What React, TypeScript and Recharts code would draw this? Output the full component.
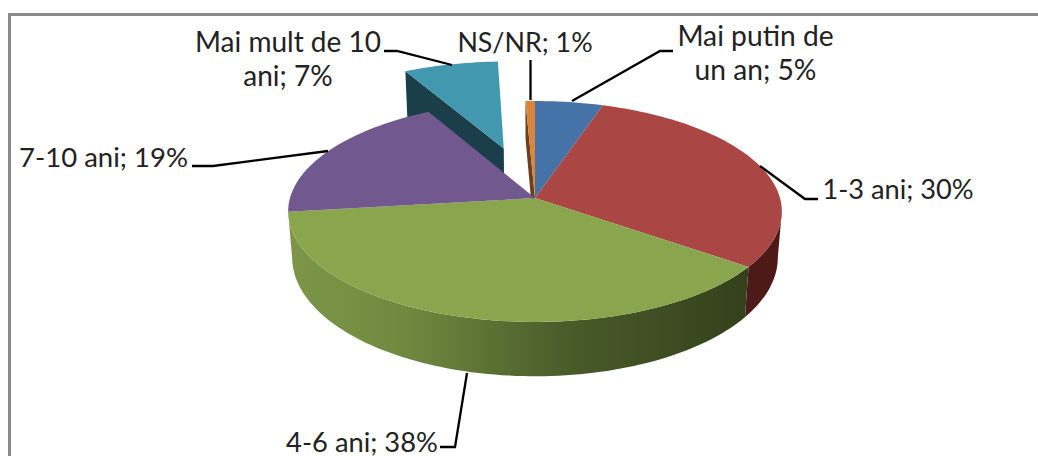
import React from 'react';
import { PieChart, Pie } from 'recharts';

const categories = ['Mai putin de un an', '1-3 ani', '4-6 ani', '7-10 ani', 'Mai mult de 10 ani', 'NS/NR'];
const values = [5, 30, 38, 19, 7.3, 0.7];
const topColors = ['#4572A7', '#AA4643', '#89A54E', '#71588F', '#4198AF', '#DB843D'];
const wallColors = ['#22394f', '#4d1a18', 'url(#greenRim)', '#38294a', '#1b3f4a', '#6b3f1a'];
const explode = [0, 0, 0, 0, 0.5, 0];

const labelLines = [
  ['Mai putin de', 'un an; 5%'],
  ['1-3 ani; 30%'],
  ['4-6 ani; 38%'],
  ['7-10 ani; 19%'],
  ['Mai mult de 10', 'ani; 7%'],
  ['NS/NR; 1%'],
];
const labelPlace = [
  { x: 755.5, y: 46, size: 28.2 },
  { x: 898, y: 199, size: 27.2 },
  { x: 362, y: 452, size: 27.3 },
  { x: 103.5, y: 167, size: 27.5 },
  { x: 288, y: 52, size: 28 },
  { x: 525, y: 52, size: 26.8 },
];
const leaderPaths = [
  '572,101 660,51 673,51',
  '760,166 805,199 818,199',
  '467,373 455,447 440,447',
  '328,151 213,166 192,166',
  '452,65 397,51 384,51',
  '530.5,100 530.5,60',
];

const K = 0.122;
const TOP = { ry: 108.8, dy: 0, scale: 1 };
const BOTTOM = { ry: 117, dy: 45, scale: 241 / 245 };
const WALL_BOTTOM = { ry: 117, dy: 60, scale: 241 / 245 };
// the rim is visible between the two silhouette tangents of the perspective ellipse
const RIM_RIGHT = -7;
const RIM_LEFT = -173;

type Layer = { ry: number; dy: number; scale: number };

function project(cx: number, cy: number, r: number, layer: Layer, u: number, v: number) {
  const d = 1 + K * v;
  return [cx + (r * layer.scale * u) / d, cy + layer.dy - (layer.ry * v) / d];
}

function arcPoints(p: any, layer: Layer, from: number, to: number) {
  const ex = explode[p.index] || 0;
  const mid = (((p.startAngle + p.endAngle) / 2) * Math.PI) / 180;
  const ox = ex * Math.cos(mid);
  const oy = ex * Math.sin(mid);
  const pts: number[][] = [];
  const n = Math.max(2, Math.ceil(Math.abs(to - from) / 1.5));
  for (let i = 0; i <= n; i++) {
    const a = ((from + ((to - from) * i) / n) * Math.PI) / 180;
    pts.push(project(p.cx, p.cy, p.outerRadius, layer, Math.cos(a) + ox, Math.sin(a) + oy));
  }
  return { pts, apex: project(p.cx, p.cy, p.outerRadius, layer, ox, oy) };
}

const toPath = (pts: number[][]) =>
  'M' + pts.map((q) => `${q[0].toFixed(2)},${q[1].toFixed(2)}`).join('L') + 'Z';

function TopFace(p: any) {
  const { pts, apex } = arcPoints(p, TOP, p.startAngle, p.endAngle);
  return <path d={toPath([apex, ...pts])} fill={topColors[p.index]} />;
}

function SideFace(p: any) {
  const s = p.startAngle;
  const e = p.endAngle;
  const fill = wallColors[p.index];
  const parts: React.ReactNode[] = [];
  const lo = Math.max(e, RIM_LEFT);
  const hi = Math.min(s, RIM_RIGHT);
  if (hi > lo) {
    const t = arcPoints(p, TOP, hi, lo).pts;
    const b = arcPoints(p, BOTTOM, hi, lo).pts;
    parts.push(<path key="rim" d={toPath([...t, ...b.reverse()])} fill={fill} />);
  }
  if (p.index >= 4) {
    const layer = explode[p.index] > 0 ? WALL_BOTTOM : BOTTOM;
    const t = arcPoints(p, TOP, s, s);
    const b = arcPoints(p, layer, s, s);
    parts.push(<path key="wall" d={toPath([t.pts[0], t.apex, b.apex, b.pts[0]])} fill={fill} />);
  }
  return <g>{parts}</g>;
}

function SliceLabel(p: any) {
  const i = p.index;
  const place = labelPlace[i];
  return (
    <g>
      <polyline points={leaderPaths[i]} fill="none" stroke="#000" strokeWidth={2.3} />
      <text x={place.x} y={place.y} textAnchor="middle" fontFamily="Lato" fontSize={place.size} fill="#222">
        {labelLines[i].map((line, j) => (
          <tspan key={j} x={place.x} dy={j === 0 ? 0 : 34}>
            {line}
          </tspan>
        ))}
      </text>
    </g>
  );
}

const data = categories.map((name, i) => ({ name, value: values[i] }));

export default function App() {
  return (
    <div style={{ position: 'absolute', left: 0, top: 0, width: 1038, height: 456, overflow: 'hidden', background: '#fff' }}>
      <div style={{ position: 'absolute', left: 8, top: 13, width: 1100, height: 500, borderLeft: '3px solid #8a8a8a', borderTop: '3px solid #8a8a8a' }} />
      <div style={{ position: 'absolute', left: 0, top: 0 }}>
        <PieChart width={1038} height={456} margin={{ top: 0, right: 0, bottom: 0, left: 0 }}>
          <defs>
            <linearGradient id="greenRim" gradientUnits="userSpaceOnUse" x1="288" y1="0" x2="750" y2="0">
              <stop offset="0" stopColor="#7d9649" />
              <stop offset="0.25" stopColor="#6f8a3f" />
              <stop offset="0.6" stopColor="#4a5c2a" />
              <stop offset="1" stopColor="#33401b" />
            </linearGradient>
          </defs>
          <Pie
            data={data}
            dataKey="value"
            nameKey="name"
            cx={535}
            cy={198}
            innerRadius={0}
            outerRadius={245}
            startAngle={90}
            endAngle={-270}
            paddingAngle={0}
            stroke="none"
            isAnimationActive={false}
            shape={SideFace}
            label={false}
            labelLine={false}
          />
          <Pie
            data={data}
            dataKey="value"
            nameKey="name"
            cx={535}
            cy={198}
            innerRadius={0}
            outerRadius={245}
            startAngle={90}
            endAngle={-270}
            paddingAngle={0}
            stroke="none"
            isAnimationActive={false}
            shape={TopFace}
            label={SliceLabel}
            labelLine={false}
          />
        </PieChart>
      </div>
    </div>
  );
}
